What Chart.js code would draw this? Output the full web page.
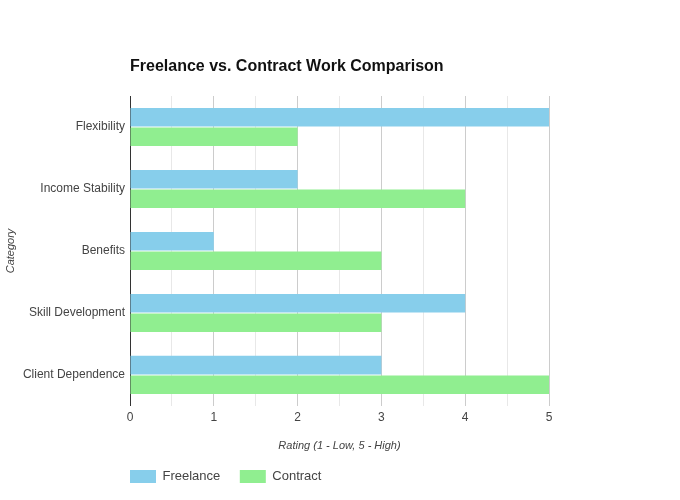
<!DOCTYPE html>
<html>
<head>
<meta charset="utf-8">
<script src="https://cdn.jsdelivr.net/npm/chart.js@4"></script>
<style>
  html, body { margin: 0; padding: 0; background: #fff; }
  #wrap { width: 680px; height: 500px; }
</style>
</head>
<body>
<div id="wrap"><canvas id="c" width="680" height="500"></canvas></div>
<script>
const categories = ["Flexibility", "Income Stability", "Benefits", "Skill Development", "Client Dependence"];
const freelance = [5, 2, 1, 4, 3];
const contract = [2, 4, 3, 3, 5];
const seriesNames = ["Freelance", "Contract"];
const titleText = "Freelance vs. Contract Work Comparison";
const xTitle = "Rating (1 - Low, 5 - High)";
const yTitle = "Category";

const FONT = "'Liberation Sans', Arial, Helvetica, sans-serif";

const alignPlugin = {
  id: 'alignToArea',
  afterLayout(chart) {
    const ca = chart.chartArea;
    if (chart.titleBlock) chart.titleBlock.left = ca.left;
    if (chart.legend) {
      const p = chart.legend.options.labels.padding;
      chart.legend.left = ca.left - p;
      chart.legend.top -= 2;
    }
  }
};

new Chart(document.getElementById('c'), {
  type: 'bar',
  data: {
    labels: categories,
    datasets: [
      { label: seriesNames[0], data: freelance, backgroundColor: '#87CEEB',
        categoryPercentage: 0.63, barPercentage: 0.95 },
      { label: seriesNames[1], data: contract, backgroundColor: '#90EE90',
        categoryPercentage: 0.63, barPercentage: 0.95 }
    ]
  },
  plugins: [alignPlugin],
  options: {
    indexAxis: 'y',
    responsive: false,
    animation: false,
    layout: { padding: { top: 0, right: 131, bottom: 5, left: 0 } },
    plugins: {
      title: {
        display: true, text: titleText, align: 'start', color: '#111',
        font: { family: FONT, size: 16, weight: 'bold' },
        padding: { top: 57.4, bottom: 19.4 }
      },
      legend: {
        position: 'bottom', align: 'start', maxHeight: 48.4,
        labels: {
          boxWidth: 26, boxHeight: 13, padding: 19.5, color: '#444',
          font: { family: FONT, size: 13 }
        }
      },
      tooltip: { enabled: false }
    },
    scales: {
      x: {
        min: 0, max: 5,
        grid: {
          drawTicks: false,
          color: (ctx) => (ctx.tick && Math.abs(ctx.tick.value % 1) < 1e-9) ? '#cccccc' : '#e8e8e8'
        },
        border: { display: false },
        ticks: {
          stepSize: 0.5, padding: 5, color: '#444',
          font: { family: FONT, size: 12 },
          callback: (v) => (Math.abs(v % 1) < 1e-9 ? String(v) : '')
        },
        title: {
          display: true, text: xTitle, color: '#444',
          font: { family: FONT, size: 11, style: 'italic' },
          padding: { top: 9, bottom: 0 }
        }
      },
      y: {
        grid: { display: false, drawTicks: false },
        border: { display: true, color: '#333', width: 1 },
        ticks: { padding: 5, color: '#444', font: { family: FONT, size: 12 } },
        title: {
          display: true, text: yTitle, color: '#444',
          font: { family: FONT, size: 11, style: 'italic' },
          padding: 4
        },
        afterFit: (scale) => { scale.width = 130; }
      }
    }
  }
});
</script>
</body>
</html>
